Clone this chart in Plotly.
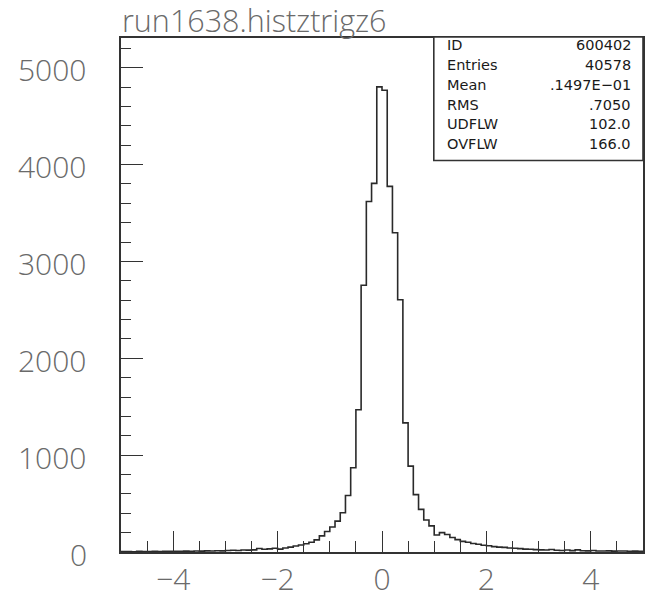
import numpy as np
import plotly.graph_objects as go

# Histogram: 100 bins of width 0.1 from -5 to 5
bin_low = -5.0
bin_width = 0.1
counts = [
    4, 5, 3, 6, 5, 4, 7, 5, 6, 8,            # -5.0 .. -4.1
    6, 7, 9, 8, 10, 9, 12, 11, 13, 12,       # -4.0 .. -3.1
    15, 18, 16, 20, 19, 22, 36, 28, 32, 38,  # -3.0 .. -2.1
    30, 42, 50, 62, 72, 85, 100, 125, 166, 211,       # -2.0 .. -1.1
    258, 319, 405, 584, 870, 1469, 2754, 3618, 3805, 4801,  # -1.0 .. -0.1
    4766, 3774, 3295, 2604, 1333, 887, 592, 440, 330, 270,  # 0.0 .. 0.9
    175, 200, 180, 150, 128, 110, 100, 88, 80, 70,    # 1.0 .. 1.9
    64, 56, 50, 48, 42, 38, 35, 30, 28, 25,           # 2.0 .. 2.9
    22, 20, 26, 18, 16, 20, 14, 22, 13, 12,           # 3.0 .. 3.9
    15, 11, 10, 12, 9, 10, 11, 8, 9, 8,               # 4.0 .. 4.9
]

title_text = "run1638.histztrigz6"
stat_labels = ["ID", "Entries", "Mean", "RMS", "UDFLW", "OVFLW"]
stat_values = ["600402", "40578", ".1497E\u221201", ".7050", "102.0", "166.0"]

x_ticks = [-4, -2, 0, 2, 4]
y_ticks = [0, 1000, 2000, 3000, 4000, 5000]

edges = np.round(bin_low + bin_width * np.arange(len(counts) + 1), 3)
step_y = list(counts) + [counts[-1]]

fig = go.Figure()
fig.add_trace(go.Scatter(
    x=edges, y=step_y, mode="lines", line=dict(color="#2a2a2a", width=1.6, shape="hv"),
    hoverinfo="skip", showlegend=False,
))

axis_font = dict(family="Open Sans", size=30, color="#6a6a6a", weight=300)
line_col = "#333333"

fig.update_xaxes(
    range=[-5, 5], tickvals=x_ticks, ticks="inside", ticklen=21, tickwidth=1.4,
    tickcolor=line_col, showline=True, mirror=True, linecolor=line_col, linewidth=1.6,
    showgrid=False, zeroline=False, tickfont=axis_font,
    minor=dict(dtick=0.5, ticks="inside", ticklen=11, tickwidth=1.2, tickcolor=line_col, showgrid=False),
)
fig.update_yaxes(
    range=[0, 5306], tickvals=y_ticks, ticks="inside", ticklen=22, tickwidth=1.4,
    tickcolor=line_col, showline=True, mirror=True, linecolor=line_col, linewidth=1.6,
    showgrid=False, zeroline=False, showticklabels=False,
    minor=dict(dtick=200, ticks="inside", ticklen=10, tickwidth=1.2, tickcolor=line_col, showgrid=False),
)

plot_l, plot_r, plot_t, plot_b = 121, 645, 38, 558
pw, ph = plot_r - plot_l, plot_b - plot_t

def px_to_paper_x(px):
    return (px - plot_l) / pw

def py_to_paper_y(py):
    return (plot_b - py) / ph

# y tick labels placed further from the axis, as in the reference
for v in y_ticks:
    fig.add_annotation(x=px_to_paper_x(89), y=v, xref="paper", yref="y", text=str(v),
                       showarrow=False, xanchor="right", yanchor="middle", yshift=-2,
                       font=axis_font)

# stats box
fig.add_shape(type="rect", xref="paper", yref="paper",
              x0=px_to_paper_x(435), x1=1.0, y0=py_to_paper_y(162), y1=py_to_paper_y(37),
              line=dict(color=line_col, width=1.6), fillcolor="white", layer="above")

stat_font = dict(family="DejaVu Sans", size=14.5, color="#1a1a1a")
for i, (lab, val) in enumerate(zip(stat_labels, stat_values)):
    yy = py_to_paper_y(45.5 + 20 * i)
    fig.add_annotation(x=px_to_paper_x(446), y=yy, xref="paper", yref="paper", text=lab,
                       showarrow=False, xanchor="left", yanchor="middle", font=stat_font)
    fig.add_annotation(x=px_to_paper_x(635), y=yy, xref="paper", yref="paper", text=val,
                       showarrow=False, xanchor="right", yanchor="middle", font=stat_font)

fig.update_layout(
    width=646, height=600,
    margin=dict(l=plot_l, r=646 - plot_r, t=plot_t, b=600 - plot_b),
    paper_bgcolor="white", plot_bgcolor="white",
    title=dict(text=title_text, x=122 / 646, xanchor="left", xref="container",
               y=1 - 21 / 600, yanchor="middle", yref="container",
               font=dict(family="Open Sans", size=30.5, color="#6a6a6a", weight=300)),
)

fig.write_html("out.html", config={"displayModeBar": False},
               post_script="document.body.style.margin='0';document.body.style.overflow='hidden';")
